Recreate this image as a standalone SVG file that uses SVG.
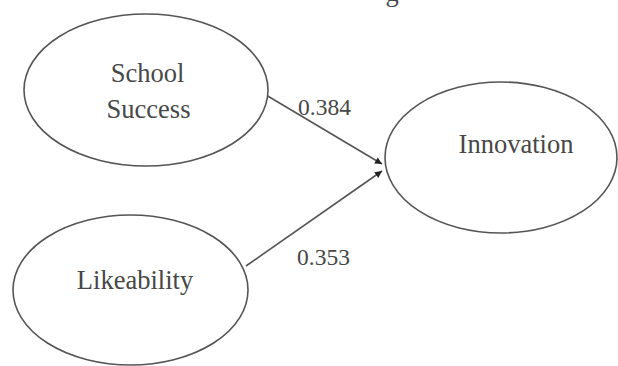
<svg xmlns="http://www.w3.org/2000/svg" width="618" height="366" viewBox="0 0 618 366">
<style>
.node{fill:#fff;stroke:#555;stroke-width:1.6}
.lbl{font-family:"Liberation Serif","Times New Roman",serif;font-size:26.5px;fill:#474747;text-anchor:middle}
.num{font-family:"Liberation Serif","Times New Roman",serif;font-size:23.5px;fill:#474747}
.edge{stroke:#555;stroke-width:1.6;fill:none;marker-end:url(#ah)}
</style>
<defs>
<marker id="ah" viewBox="0 0 10 10" refX="10" refY="5" markerWidth="8" markerHeight="7" markerUnits="userSpaceOnUse" orient="auto">
<path d="M0,0 L10,5 L0,10 Z" fill="#222"/>
</marker>
</defs>
<rect width="618" height="366" fill="#fff"/>
<text class="lbl" x="392" y="1">g</text>
<g id="connectors">
<line class="edge" x1="266" y1="95" x2="382" y2="164"/>
<line class="edge" x1="246" y1="266" x2="382" y2="171"/>
</g>
<g id="school-success">
<ellipse class="node" cx="146" cy="90" rx="122" ry="76"/>
<text class="lbl" x="147.5" y="82">School</text>
<text class="lbl" x="148.5" y="118">Success</text>
</g>
<g id="likeability">
<ellipse class="node" cx="130.5" cy="290" rx="117.5" ry="75"/>
<text class="lbl" x="135" y="289">Likeability</text>
</g>
<g id="innovation">
<ellipse class="node" cx="501" cy="157.5" rx="116" ry="75.5"/>
<text class="lbl" x="516" y="153">Innovation</text>
</g>
<text class="num" x="298" y="115">0.384</text>
<text class="num" x="297" y="265">0.353</text>
</svg>
